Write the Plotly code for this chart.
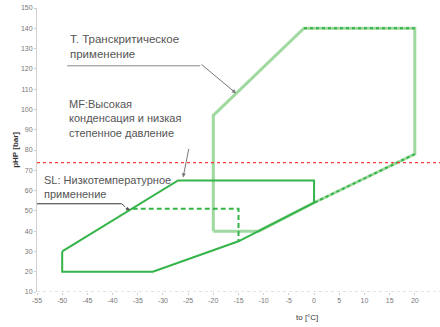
import plotly.graph_objects as go

# Operating envelope of a CO2 compressor: evaporating temperature vs high pressure
x_ticks = [-55, -50, -45, -40, -35, -30, -25, -20, -15, -10, -5, 0, 5, 10, 15, 20, 25]
y_ticks = [10, 20, 30, 40, 50, 60, 70, 80, 90, 100, 110, 120, 130, 140, 150]

# T: transcritical application
tc_t = [-20, -20, -2, 20, 20, 0, -11, -20]
tc_p = [40, 97, 140, 140, 78, 54, 40, 40]

# SL: low-temperature application
sl_t = [-50, -50, -32, -15, 0, 0, -27, -50]
sl_p = [30, 20, 20, 35, 54, 65, 65, 30]

# MF: high condensing, low pressure ratio (dashed boundary)
mf_t = [-36, -15, -15]
mf_p = [51, 51, 35]

# critical pressure of CO2
p_crit = 73.8

DARK = "#35b449"
LIGHT = "#9fd99f"
TXT = "#555555"
FAM = "Liberation Sans, Arial, sans-serif"

fig = go.Figure()

fig.add_trace(go.Scatter(x=tc_t, y=tc_p, mode="lines",
                         line=dict(color=LIGHT, width=3), hoverinfo="skip"))
# dotted darker overlay on the upper edge and lower-right edge
fig.add_trace(go.Scatter(x=tc_t[2:4], y=tc_p[2:4], mode="lines",
                         line=dict(color=DARK, width=2, dash="dot"), hoverinfo="skip"))
fig.add_trace(go.Scatter(x=tc_t[4:6], y=tc_p[4:6], mode="lines",
                         line=dict(color=DARK, width=2, dash="dot"), hoverinfo="skip"))

fig.add_trace(go.Scatter(x=sl_t, y=sl_p, mode="lines",
                         line=dict(color=DARK, width=2), hoverinfo="skip"))
fig.add_trace(go.Scatter(x=mf_t, y=mf_p, mode="lines",
                         line=dict(color=DARK, width=2, dash="5px,3px"), hoverinfo="skip"))

fig.add_trace(go.Scatter(x=[x_ticks[0], x_ticks[-1]], y=[p_crit, p_crit], mode="lines",
                         line=dict(color="#ff3b3b", width=1.3, dash="dot"), hoverinfo="skip"))

annotations = [
    dict(x=-48.8, y=138.5, text="Т. Транскритическое<br>применение", xanchor="left",
         yanchor="top", align="left", showarrow=False,
         font=dict(family=FAM, size=11.5, color=TXT)),
    dict(x=-49, y=106.5, text="MF:Высокая<br>конденсация и низкая<br>степенное давление",
         xanchor="left", yanchor="top", align="left", showarrow=False,
         font=dict(family=FAM, size=11, color=TXT)),
    dict(x=-54, y=69, text="SL: Низкотемпературное<br>применение", xanchor="left",
         yanchor="top", align="left", showarrow=False,
         font=dict(family=FAM, size=11, color=TXT)),
    # arrows
    dict(x=-15.5, y=108, ax=-36, ay=-30, showarrow=True, arrowhead=2, arrowsize=0.8,
         arrowwidth=1, arrowcolor="#777", text=""),
    dict(x=-26, y=66.5, ax=6, ay=-30, showarrow=True, arrowhead=2, arrowsize=0.8,
         arrowwidth=1, arrowcolor="#777", text=""),
    dict(x=-36.5, y=50.5, ax=-6, ay=-2, showarrow=True, arrowhead=2, arrowsize=0.8,
         arrowwidth=1, arrowcolor="#555", text=""),
    # axis titles
    dict(x=0.67, y=-0.09, xref="paper", yref="paper", text="to [°C]", showarrow=False,
         xanchor="center", yanchor="middle",
         font=dict(family=FAM, size=8, color="#333")),
    dict(x=-0.055, y=0.5, xref="paper", yref="paper", text="<b>pHP [bar]</b>", textangle=-90,
         showarrow=False, xanchor="center", yanchor="middle",
         font=dict(family=FAM, size=8, color="#333")),
]

shapes = [
    # underline of the T label leading to the arrow
    dict(type="line", xref="x", yref="y", x0=-49, y0=121.5, x1=-22.6, y1=121.5,
         line=dict(color="#888", width=1)),
    # underline of the SL label and dashed leader
    dict(type="line", xref="x", yref="y", x0=-55, y0=53.5, x1=-38.2, y1=53.5,
         line=dict(color="#333", width=1)),
    dict(type="line", xref="x", yref="y", x0=-38.2, y0=53.5, x1=-37.5, y1=52,
         line=dict(color="#555", width=1, dash="dash")),
    # dotted horizontal axis
    dict(type="line", xref="paper", yref="y", x0=0, y0=10, x1=1, y1=10,
         line=dict(color="#c8c8c8", width=1, dash="dot")),
]

fig.update_layout(
    width=440, height=327,
    margin=dict(l=37, r=0, t=8, b=35),
    paper_bgcolor="white", plot_bgcolor="white",
    showlegend=False,
    annotations=annotations,
    shapes=shapes,
    xaxis=dict(range=[-55, 25], tickvals=x_ticks, ticktext=[str(v) for v in x_ticks],
               showgrid=False, zeroline=False, showline=False,
               ticks="outside", ticklen=2, tickcolor="#ccc",
               tickfont=dict(family=FAM, size=7, color="#777")),
    yaxis=dict(range=[10, 150], tickvals=y_ticks, ticktext=[str(v) for v in y_ticks],
               showgrid=False, zeroline=False, showline=True, linecolor="#d0d0d0",
               ticks="outside", ticklen=2, tickcolor="#ccc",
               tickfont=dict(family=FAM, size=7, color="#777")),
)

fig.write_html("out.html")
